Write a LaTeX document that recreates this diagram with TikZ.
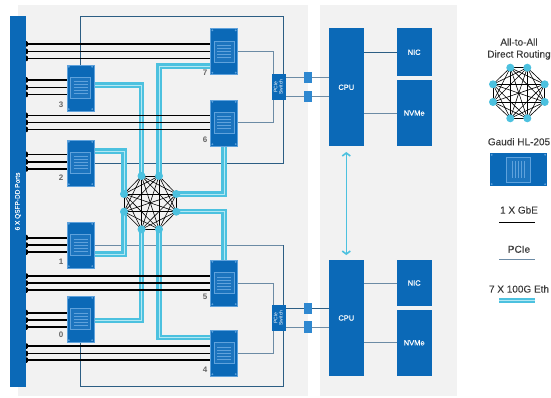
\documentclass[tikz,border=0pt]{standalone}
\usepackage{fontspec}
\setmainfont{Liberation Sans}
\newfontfamily\keyfont[FakeBold=0.25]{Liberation Sans}
\usetikzlibrary{arrows.meta,backgrounds}
\definecolor{bladeblue}{HTML}{0B69B7}
\definecolor{panelgrey}{HTML}{F2F2F2}
\definecolor{ethblue}{HTML}{4CC1DF}
\definecolor{ethpale}{HTML}{B4E8F3}
\definecolor{slateline}{HTML}{6C8BA5}
\definecolor{darkline}{HTML}{2C5E84}
\definecolor{tapblue}{HTML}{2F88D0}
\definecolor{facelight}{HTML}{5FA2DC}
\definecolor{faceblue}{HTML}{1C74BE}
\definecolor{keytext}{HTML}{3A3A3A}
\tikzset{
    chip/.style={fill=bladeblue,draw=facelight,line width=0.4pt,minimum width=27pt,minimum height=46pt,inner sep=0pt,
        path picture={
            \foreach \a/\b in {south west/{(1.8pt,1.8pt)},south east/{(-1.8pt,1.8pt)},north west/{(1.8pt,-1.8pt)},north east/{(-1.8pt,-1.8pt)}}
                \fill [facelight] ([shift=\b]path picture bounding box.\a) circle (1pt);
            \draw [facelight,fill=faceblue,line width=0.8pt] ([shift={(-10pt,-10.5pt)}]path picture bounding box.center) rectangle ++(20pt,21pt);
            \foreach \s in {-6,-3,0,3,6}
                \draw [facelight,line width=1pt] ([shift={(-7pt,\s pt)}]path picture bounding box.center) -- ++(14pt,0);
        }},
    chipkey/.style={fill=bladeblue,minimum width=57pt,minimum height=33pt,inner sep=0pt,
        path picture={
            \foreach \a/\b in {south west/{(1.8pt,1.8pt)},south east/{(-1.8pt,1.8pt)},north west/{(1.8pt,-1.8pt)},north east/{(-1.8pt,-1.8pt)}}
                \fill [facelight] ([shift=\b]path picture bounding box.\a) circle (1pt);
            \draw [facelight,fill=faceblue,line width=0.8pt] ([shift={(-12pt,-12.5pt)}]path picture bounding box.center) rectangle ++(24pt,25pt);
            \foreach \s in {-6,-3,0,3,6}
                \draw [facelight,line width=1pt] ([shift={(\s pt,-8.5pt)}]path picture bounding box.center) -- ++(0,17pt);
        }},
    hostbox/.style={fill=bladeblue,inner sep=0pt,text=white,font=\fontsize{7.5}{9}\keyfont},
    switchbox/.style={fill=bladeblue,minimum width=14pt,minimum height=26pt,inner sep=0pt,text=white,align=center,font=\fontsize{5}{5.2}\selectfont},
    tapbox/.style={fill=tapblue,minimum width=7.5pt,minimum height=11.5pt,inner sep=0pt},
    portdot/.style={fill=black,rounded corners=0.8pt,minimum size=5.5pt,inner sep=0pt},
    meshdot/.style={circle,fill=ethblue,minimum size=8pt,inner sep=0pt},
    chipnum/.style={text=black!60,font=\fontsize{8}{9}\selectfont\bfseries,inner sep=0pt},
    keylabel/.style={text=keytext,align=center,font=\fontsize{10}{12}\keyfont,inner sep=0pt},
    gbe/.style={black,line width=1.6pt},
    pcie/.style={slateline,line width=1pt},
    pciedark/.style={darkline,line width=0.9pt},
    eth/.style={ethblue,line width=2.1pt,double=ethpale,double distance=0.9pt},
    meshline/.style={black,line width=0.6pt}
}

\begin{document}
\begin{tikzpicture}[x=1pt,y=-1pt]
    \useasboundingbox (0,0) rectangle (551,398);

    \node [fill=bladeblue,minimum width=16pt,minimum height=371pt,inner sep=0pt,text=white] (ports) at (18,201.5)
        {\rotatebox{90}{\fontsize{6.5}{8}\keyfont 6 X QSFP-DD Ports}};

    \foreach \n/\x/\y in {3/80.5/88,2/80.5/163,1/80.5/245,0/80.5/319,7/224/51.5,6/224/123,5/224/283,4/224/353}
        \node [chip] (chip\n) at (\x,\y) {};
    \foreach \n/\x/\y in {3/61/105,2/61/178,1/61/262,0/61/335,7/205/73,6/205/140,5/205/297,4/205/370}
        \node [chipnum] (num\n) at (\x,\y) {\n};

    \foreach \n/\x/\y in {0/141.5/176,1/159/176,2/176.3/194,3/176.3/211.7,4/159/229.3,5/141.5/229.3,6/124/211.7,7/124/194}
        \node [meshdot] (mesh\n) at (\x,\y) {};
    \foreach \n/\x/\y in {0/510.3/67.7,1/527.3/67.7,2/544.7/84.3,3/544.7/102,4/527.3/118.3,5/510.3/118.3,6/493/102,7/493/84.3}
        \node [meshdot] (key\n) at (\x,\y) {};

    \node [switchbox] (swtop) at (279,87) {\rotatebox{90}{\begin{tabular}{@{}c@{}}PCIe\\Switch\end{tabular}}};
    \node [switchbox] (swbot) at (279,318) {\rotatebox{90}{\begin{tabular}{@{}c@{}}PCIe\\Switch\end{tabular}}};
    \node [tapbox] (tapa) at (308,77.5) {};
    \node [tapbox] (tapb) at (308,96.3) {};
    \node [tapbox] (tapc) at (308,308.7) {};
    \node [tapbox] (tapd) at (308,327) {};

    \node [hostbox,minimum width=35pt,minimum height=118pt] (cputop) at (346.3,87.3) {CPU};
    \node [hostbox,minimum width=35pt,minimum height=115.5pt] (cpubot) at (346.3,318) {CPU};
    \node [hostbox,minimum width=35pt,minimum height=48pt] (nictop) at (414.2,52.3) {NIC};
    \node [hostbox,minimum width=35pt,minimum height=66.3pt] (nvmetop) at (414.2,113.1) {NVMe};
    \node [hostbox,minimum width=35pt,minimum height=46.6pt] (nicbot) at (414.2,283) {NIC};
    \node [hostbox,minimum width=35pt,minimum height=65.7pt] (nvmebot) at (414.2,342.85) {NVMe};

    \node [keylabel] (keyroute) at (519,49) {All-to-All\\Direct Routing};
    \node [keylabel] (keygaudi) at (519,141.7) {Gaudi HL-205};
    \node [chipkey] (keychip) at (518.4,169.5) {};
    \node [keylabel] (keygbe) at (519,210) {1 X GbE};
    \node [keylabel] (keypcie) at (519,249.3) {PCIe};
    \node [keylabel] (keyeth) at (519,289) {7 X 100G Eth};
    \coordinate (gbea) at (499.3,222.3);
    \coordinate (gbeb) at (535.3,222.3);
    \coordinate (pciea) at (499.3,259.3);
    \coordinate (pcieb) at (535.3,259.3);
    \coordinate (etha) at (499.3,300.7);
    \coordinate (ethb) at (535.3,300.7);
    \coordinate (busa) at (283.5,16);
    \coordinate (busb) at (283.5,386.7);

    \begin{pgfonlayer}{background}
        \fill [panelgrey] (18,5) rectangle (308,396);
        \fill [panelgrey] (320,5) rectangle (457,396);

        \draw [pciedark] (chip3.north) |- (busa) -- (busa |- chip2.east) -- (chip2.east);
        \draw [pcie] (chip1.east) -- (busb |- chip1.east);
        \draw [pciedark] (busb |- chip1.east) -- (busb) -| (chip0.south);
        \draw [pcie] (chip7.east) -- ++(36,0) |- (chip6.east);
        \draw [pcie] (chip5.east) -- ++(36,0) |- (chip4.east);

        \draw [pcie] (swtop.east |- tapa) -- (cputop.west |- tapa);
        \draw [pcie] (swtop.east |- tapb) -- (cputop.west |- tapb);
        \draw [pciedark] (swbot.east |- tapc) -- (cpubot.west |- tapc);
        \draw [pcie] (swbot.east |- tapd) -- (cpubot.west |- tapd);
        \draw [pciedark] (cputop.east |- nictop.west) -- (nictop.west);
        \draw [pcie] (cputop.east |- nvmetop.west) -- (nvmetop.west);
        \draw [pcie] (cpubot.east |- nicbot.west) -- (nicbot.west);
        \draw [pcie] (cpubot.east |- nvmebot.west) -- (nvmebot.west);

        \foreach \i in {0,...,7} {
            \foreach \j in {0,...,7} {
                \ifnum \i<\j
                    \draw [meshline] (mesh\i.center) -- (mesh\j.center);
                    \draw [meshline] (key\i.center) -- (key\j.center);
                \fi
            }
        }

        \draw [eth] ([yshift=3pt]chip3.east) -| (mesh0.center);
        \draw [eth] ([yshift=-14.5pt]chip7.west) -| (mesh1.center);
        \draw [eth] ([yshift=12pt]chip2.east) -| (mesh7.center);
        \draw [eth] (chip6.south) |- (mesh2.center);
        \draw [eth] ([yshift=-9pt]chip1.east) -| (mesh6.center);
        \draw [eth] (chip5.north) |- (mesh3.center);
        \draw [eth] ([yshift=-1.3pt]chip0.east) -| (mesh5.center);
        \draw [eth] ([yshift=15.7pt]chip4.west) -| (mesh4.center);

        \foreach \n/\a/\b/\c in {7/44/51.5/58.5,3/80/87.5/94.5,6/115.5/122.5/129.5,2/154.5/162/169,1/237.7/245/252,5/276/283/290,0/312.7/320/327,4/346/353.5/360} {
            \foreach \k/\y in {a/\a,b/\b,c/\c} {
                \node [portdot] (port\n\k) at (25,\y) {};
                \draw [gbe] (port\n\k) -- (chip\n.west |- port\n\k);
            }
        }

        \draw [gbe] (gbea) -- (gbeb);
        \draw [pcie] (pciea) -- (pcieb);
        \draw [eth] (etha) -- (ethb);
    \end{pgfonlayer}

    \draw [ethblue,line width=1.6pt,{Straight Barb[length=3pt,width=8pt]}-{Straight Barb[length=3pt,width=8pt]},shorten >=5pt,shorten <=5.5pt] (cputop.south) -- (cpubot.north);
\end{tikzpicture}
\end{document}
